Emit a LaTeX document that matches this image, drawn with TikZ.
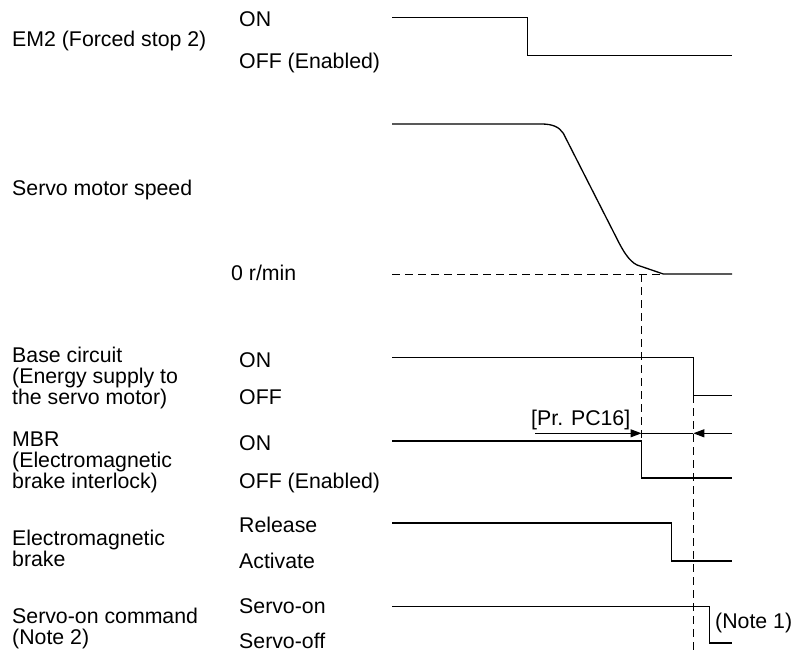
\documentclass[tikz,border=0pt]{standalone}
\usepackage{fontspec}
\setmainfont{Liberation Sans}
\usetikzlibrary{arrows.meta}
\begin{document}
\begin{tikzpicture}[x=1pt,y=-1pt,
  lbl/.style={anchor=base west,inner sep=0pt,font=\fontsize{21.3}{21}\selectfont,align=left},
  sig/.style={line width=1.3pt,line join=miter},
  guide/.style={line width=1pt,dash pattern=on 8pt off 5pt},
  dimline/.style={line width=1pt},
  dimarrow/.style={line width=1pt,-{Triangle[length=11pt,width=8pt]}}]
\useasboundingbox (0,0) rectangle (799,652);

% labels (multi-line nodes are anchored at the baseline of their last line)
\node[lbl] (em2) at (12,47) {EM2 (Forced stop 2)};
\node[lbl] (em2on) at (239,27) {ON};
\node[lbl] (em2off) at (239,68.3) {OFF (Enabled)};
\node[lbl] (spd) at (12,195.3) {Servo motor speed};
\node[lbl] (zero) at (231,280.5) {0 r/min};
\node[lbl] (base) at (12,404.3) {Base circuit\\(Energy supply to\\the servo motor)};
\node[lbl] (baseon) at (239,367) {ON};
\node[lbl] (baseoff) at (239,404.6) {OFF};
\node[lbl] (mbr) at (12,488) {MBR\\(Electromagnetic\\brake interlock)};
\node[lbl] (mbron) at (239,450) {ON};
\node[lbl] (mbroff) at (239,488) {OFF (Enabled)};
\node[lbl] (brk) at (12,566.5) {Electromagnetic\\brake};
\node[lbl] (rel) at (239,532) {Release};
\node[lbl] (act) at (239,568.5) {Activate};
\node[lbl] (son) at (12,644.5) {Servo-on command\\(Note 2)};
\node[lbl] (sonon) at (239,613.5) {Servo-on};
\node[lbl] (sonoff) at (239,648.5) {Servo-off};
\node[lbl] (note1) at (715,628) {(Note 1)};
\node[lbl] (pc16) at (531,425) {[Pr. PC16]};

% EM2
\coordinate (e0) at (392,17.7);
\coordinate (e1) at (527.7,17.7);
\coordinate (e2) at (527.7,55.7);
\coordinate (e3) at (732,55.7);
\draw[sig] (e0) -- (e1) -- (e2) -- (e3);

% speed
\coordinate (s0) at (392,124);
\coordinate (s1) at (541,124);
\coordinate (s2) at (563.3,133.3);
\coordinate (s3) at (616.7,238.3);
\coordinate (s4) at (637,265);
\coordinate (s5) at (663.3,274);
\coordinate (s6) at (732,274);
\coordinate (z0) at (392,274);
\draw[guide] (z0) -- (s5);
\draw[sig] (s0) -- (s1) .. controls (553,124) and (559,127) .. (s2) -- (s3)
  .. controls (623,251) and (629,261) .. (s4) -- (s5) -- (s6);

% base circuit
\coordinate (b0) at (392,357.7);
\coordinate (b1) at (693.3,357.7);
\coordinate (b2) at (693.3,395.3);
\coordinate (b3) at (732,395.3);
\draw[sig] (b0) -- (b1) -- (b2) -- (b3);

% MBR
\coordinate (m0) at (392,441);
\coordinate (m1) at (641.5,441);
\coordinate (m2) at (641.5,478);
\coordinate (m3) at (732,478);
\draw[sig] (m0) -- (m1) -- (m2) -- (m3);

% brake
\coordinate (k0) at (392,523);
\coordinate (k1) at (671.7,523);
\coordinate (k2) at (671.7,561);
\coordinate (k3) at (732,561);
\draw[sig] (k0) -- (k1) -- (k2) -- (k3);

% servo-on
\coordinate (v0) at (392,606.5);
\coordinate (v1) at (709.5,606.5);
\coordinate (v2) at (709.5,643);
\coordinate (v3) at (732,643);
\draw[sig] (v0) -- (v1) -- (v2) -- (v3);

% guides
\coordinate (g1top) at (641.5,274);
\coordinate (g2bot) at (693.3,650);
\draw[guide] (g1top) -- (m1);
\draw[guide] (b2) -- (g2bot);

% dimension
\coordinate (d0) at (535,433.3);
\coordinate (d1) at (641.5,433.3);
\coordinate (d2) at (693.3,433.3);
\coordinate (d3) at (732,433.3);
\draw[dimarrow] (d0) -- (d1);
\draw[dimline] (d1) -- (d2);
\draw[dimarrow] (d3) -- (d2);
\end{tikzpicture}
\end{document}
